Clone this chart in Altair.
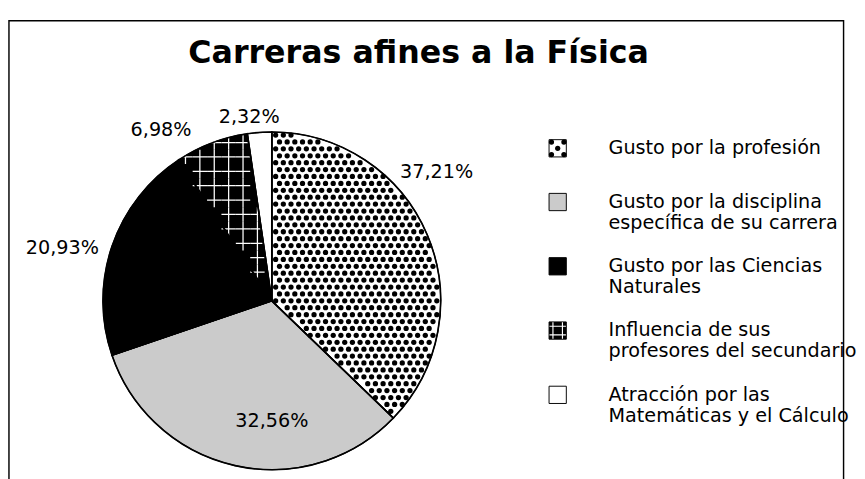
import math
import altair as alt
import pandas as pd

# ---------------- data ----------------
TITLE = "Carreras afines a la Física"
categories = [
    "Gusto por la profesión",
    "Gusto por la disciplina específica de su carrera",
    "Gusto por las Ciencias Naturales",
    "Influencia de sus profesores del secundario",
    "Atracción por las Matemáticas y el Cálculo",
]
legend_labels = [
    "Gusto por la profesión",
    "Gusto por la disciplina\nespecífica de su carrera",
    "Gusto por las Ciencias\nNaturales",
    "Influencia de sus\nprofesores del secundario",
    "Atracción por las\nMatemáticas y el Cálculo",
]
percentages = [37.21, 32.56, 20.93, 6.98, 2.32]

# ---------------- styles / layout ----------------
fills = ["#ffffff", "#cbcbcb", "#000000", "#000000", "#ffffff"]
FONT = "DejaVu Sans"
W, H = 870, 480
CX, CY, R = 274, 292, 176
LABEL_DEG = [52, 180, 284, 327, 353]
LABEL_R = [218, 126, 225, 212, 193]
LEG_SW_X, LEG_TX_X = 572, 625
LEG_TOP, LEG_LH, LEG_GAP = 122, 22, 23
SW = 18          # legend swatch side
DOT_SX, DOT_SY, DOT_SIZE = 8, 7.2, 30
HATCH = 15

total = sum(percentages)
cum = [0.0]
for p in percentages:
    cum.append(cum[-1] + p)
ang = [2 * math.pi * c / total for c in cum]

# legend item centres: items stacked with a constant gap between them
leg_y = []
top = LEG_TOP
for lab in legend_labels:
    h = (lab.count("\n") + 1) * LEG_LH
    leg_y.append(top + h / 2)
    top += h + LEG_GAP

xs = alt.Scale(domain=[0, W], nice=False, zero=False)
ys = alt.Scale(domain=[0, H], nice=False, zero=False, reverse=True)
cs = alt.Scale(domain=categories, range=fills)

pie_df = pd.DataFrame({
    "cat": categories,
    "pct": percentages,
    "idx": list(range(len(categories))),
    "label": [f"{p:.2f}".replace(".", ",") + "%" for p in percentages],
    "la": LABEL_DEG,
    "lr": LABEL_R,
    "legend": legend_labels,
    "ly": leg_y,
})

theta = alt.Theta("pct:Q", stack=True)
order = alt.Order("idx:Q")

pie = alt.Chart(pie_df).mark_arc(radius=R, stroke="black", strokeWidth=1.2).encode(
    theta=theta, order=order,
    color=alt.Color("cat:N", scale=cs, legend=None),
    x=alt.value(CX), y=alt.value(CY),
)

outline = alt.Chart(pie_df).mark_arc(radius=R, fillOpacity=0, stroke="black", strokeWidth=1.7).encode(
    theta=theta, order=order, x=alt.value(CX), y=alt.value(CY),
)


def wedge_points(n_i, n_j, sx, sy, a0, a1, margin, stagger):
    stag = f"(datum.j % 2) * {sx / 2}" if stagger else "0"
    return (
        alt.Chart(alt.sequence(0, n_i, as_="i"))
        .transform_calculate(js=f"sequence(0, {n_j})")
        .transform_flatten(["js"], as_=["j"])
        .transform_calculate(
            dx=f"(datum.i - {n_i // 2}) * {sx} + {stag}",
            dy=f"(datum.j - {n_j // 2}) * {sy}",
        )
        .transform_calculate(
            rho="sqrt(datum.dx * datum.dx + datum.dy * datum.dy)",
            ang="(atan2(datum.dx, -datum.dy) + 2 * PI) % (2 * PI)",
        )
        .transform_calculate(
            d0=f"(datum.ang - {a0}) > PI / 2 ? datum.rho : datum.rho * sin(datum.ang - {a0})",
            d1=f"({a1} - datum.ang) > PI / 2 ? datum.rho : datum.rho * sin({a1} - datum.ang)",
            X=f"{CX} + datum.dx",
            Y=f"{CY} + datum.dy",
        )
        .transform_filter(
            f"datum.ang >= {a0} && datum.ang <= {a1} && datum.rho <= {R - margin} "
            f"&& datum.d0 >= {margin} && datum.d1 >= {margin}"
        )
    )


dots = wedge_points(int(2 * R / DOT_SX) + 3, int(2 * R / DOT_SY) + 3, DOT_SX, DOT_SY,
                    ang[0], ang[1], 1.8, True).mark_circle(
    size=DOT_SIZE, color="black", opacity=1
).encode(x=alt.X("X:Q", scale=xs, axis=None), y=alt.Y("Y:Q", scale=ys, axis=None))

hatch = wedge_points(int(2 * R / HATCH) + 3, int(2 * R / HATCH) + 3, HATCH, HATCH,
                     ang[3], ang[4], 0, False).mark_point(
    shape="M-1,0H1M0,-1V1", size=HATCH * HATCH, stroke="white", strokeWidth=1.3,
    filled=False, opacity=1,
).encode(x=alt.X("X:Q", scale=xs, axis=None), y=alt.Y("Y:Q", scale=ys, axis=None))

labels = alt.Chart(pie_df).transform_calculate(
    X=f"{CX} + datum.lr * sin(datum.la * PI / 180)",
    Y=f"{CY} - datum.lr * cos(datum.la * PI / 180)",
).mark_text(font=FONT, fontSize=20, color="black").encode(
    x=alt.X("X:Q", scale=xs, axis=None), y=alt.Y("Y:Q", scale=ys, axis=None), text="label:N"
)

leg_base = alt.Chart(pie_df).transform_calculate(
    SX=f"{LEG_SW_X}", TX=f"{LEG_TX_X}"
)

swatches = leg_base.mark_square(size=SW * SW, stroke="black", strokeWidth=1, opacity=1).encode(
    x=alt.X("SX:Q", scale=xs, axis=None), y=alt.Y("ly:Q", scale=ys, axis=None),
    color=alt.Color("cat:N", scale=cs, legend=None),
)

sw_a = SW / 2 - 2.5
sw_dots = alt.Chart(alt.sequence(0, 9, as_="k")).transform_calculate(
    i="datum.k % 3", j="floor(datum.k / 3)"
).transform_filter("(datum.i + datum.j) % 2 == 0").transform_calculate(
    X=f"{LEG_SW_X} + (datum.i - 1) * {sw_a}", Y=f"{leg_y[0]} + (datum.j - 1) * {sw_a}"
).mark_circle(size=DOT_SIZE, color="black", opacity=1).encode(
    x=alt.X("X:Q", scale=xs, axis=None), y=alt.Y("Y:Q", scale=ys, axis=None)
)

sw_hatch = leg_base.transform_filter("datum.idx == 3").mark_point(
    shape="M-0.55,-0.95V0.95M0.55,-0.95V0.95M-0.95,-0.5H0.95M-0.95,0.5H0.95",
    size=SW * SW, stroke="white", strokeWidth=1.2, filled=False, opacity=1,
).encode(x=alt.X("SX:Q", scale=xs, axis=None), y=alt.Y("ly:Q", scale=ys, axis=None))

leg_text = leg_base.mark_text(
    font=FONT, fontSize=20, align="left", baseline="middle", lineBreak="\n",
    lineHeight=LEG_LH, color="black"
).encode(x=alt.X("TX:Q", scale=xs, axis=None), y=alt.Y("ly:Q", scale=ys, axis=None), text="legend:N")

title = alt.Chart(pd.DataFrame({"t": [TITLE]})).mark_text(
    font=FONT, fontSize=33, fontWeight="bold", color="black", baseline="middle"
).encode(x=alt.value(427), y=alt.value(34), text="t:N")

chart = alt.layer(
    pie, dots, hatch, outline, labels, swatches, sw_dots, sw_hatch, leg_text, title
).properties(
    width=W, height=H, padding={"left": 1, "top": 3, "right": 0, "bottom": 0}, background="white"
).configure_view(stroke="black", strokeWidth=1.5)

chart.save("out.html", embed_options={"renderer": "svg", "actions": False})
